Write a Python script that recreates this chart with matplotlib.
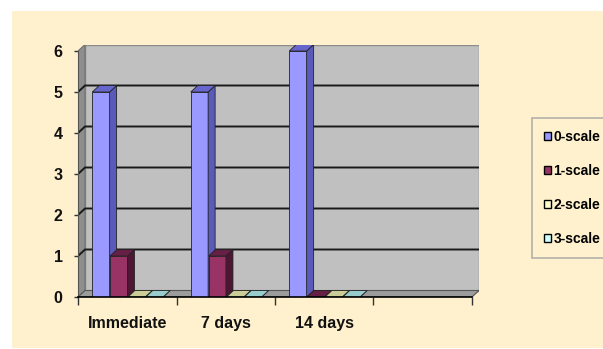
import matplotlib
matplotlib.use("Agg")
from matplotlib import pyplot as plt
from matplotlib.patches import Polygon, Rectangle, Patch

# data (last category has no values)
categories = ["Immediate", "7 days", "14 days", ""]
series_names = ["0-scale", "1-scale", "2-scale", "3-scale"]
scale0 = [5, 5, 6, None]
scale1 = [1, 1, 0, None]
scale2 = [0, 0, 0, None]
scale3 = [0, 0, 0, None]

face_colors = ["#9999FF", "#993366", "#FFFFCC", "#CCFFFF"]
top_colors = ["#6666CC", "#661F45", "#CCCC99", "#99CCCC"]
side_colors = ["#5A5AB8", "#4D1633", "#B3B380", "#80B3B3"]

BG = "#FFF1CE"
FONT = ["Liberation Sans Narrow", "Liberation Sans", "DejaVu Sans"]


def draw_bar3d(ax, x, w, h, dx, dy, k, z):
    ax.bar(x, h, width=w, align="edge", color=face_colors[k],
           edgecolor="#222222", linewidth=0.6, zorder=z)
    top = Polygon([(x, h), (x + w, h), (x + w + dx, h + dy), (x + dx, h + dy)],
                  closed=True, facecolor=top_colors[k], edgecolor="#222222",
                  linewidth=0.6, zorder=z)
    side = Polygon([(x + w, 0), (x + w + dx, dy), (x + w + dx, h + dy), (x + w, h)],
                   closed=True, facecolor=side_colors[k], edgecolor="#222222",
                   linewidth=0.6, zorder=z)
    ax.add_patch(side)
    ax.add_patch(top)


def main():
    plt.rcParams["font.family"] = FONT
    plt.rcParams["font.weight"] = "bold"

    W, H = 603, 349
    fig = plt.figure(figsize=(W / 100, H / 100), dpi=100)
    fig.patch.set_facecolor("white")
    fig.patches.append(Rectangle((12 / W, 1 / H), 591 / W, 337 / H,
                                 transform=fig.transFigure, facecolor=BG,
                                 edgecolor="none", zorder=-10))

    # pixel scale of the front plane
    px_cat = 98.5
    px_val = 41.0
    dx = 7 / px_cat
    dy = 6.5 / px_val
    ymax = 6
    ncat = len(categories)

    x0, y0 = 78, 297
    aw = ncat * px_cat + 7
    ah = (ymax + dy) * px_val
    ax = fig.add_axes([x0 / W, (H - y0) / H, aw / W, ah / H])
    ax.set_xlim(0, ncat + dx)
    ax.set_ylim(0, ymax + dy)
    ax.patch.set_visible(False)

    # walls and floor
    ax.add_patch(Rectangle((dx, dy), ncat, ymax, facecolor="#C0C0C0",
                           edgecolor="#8C8C8C", linewidth=1.0, zorder=0))
    ax.add_patch(Polygon([(0, 0), (dx, dy), (dx, ymax + dy), (0, ymax)],
                         closed=True, facecolor="#8E8E8E", edgecolor="#707070",
                         linewidth=0.8, zorder=0))
    ax.add_patch(Polygon([(0, 0), (ncat, 0), (ncat + dx, dy), (dx, dy)],
                         closed=True, facecolor="#9C9C9C", edgecolor="#555555",
                         linewidth=0.8, zorder=0.5))

    for v in range(1, ymax):
        ax.plot([0, dx, ncat + dx], [v, v + dy, v + dy], color="#1A1A1A",
                linewidth=1.4, zorder=0.6, solid_capstyle="butt")

    # bars
    series = [scale0, scale1, scale2, scale3]
    start, pitch, width = 0.145, 0.181, 0.176
    z = 2
    for i in range(ncat):
        for k, vals in enumerate(series):
            if vals[i] is None:
                continue
            x = i + start + k * pitch
            draw_bar3d(ax, x, width, vals[i], dx, dy, k, z)
            z += 1

    # axes
    for s in ["top", "right"]:
        ax.spines[s].set_visible(False)
    ax.spines["left"].set_bounds(0, ymax)
    ax.spines["left"].set_color("#555555")
    ax.spines["bottom"].set_bounds(0, ncat)
    ax.spines["bottom"].set_linewidth(1.2)
    ax.spines["left"].set_zorder(50)
    ax.spines["bottom"].set_zorder(50)

    ax.set_yticks(range(ymax + 1))
    ax.tick_params(axis="y", length=3, width=1, pad=8, labelsize=11.5,
                   color="#333333")
    ax.set_xticks(range(ncat + 1))
    ax.set_xticklabels([])
    ax.set_xticks([i + 0.5 for i in range(ncat)], minor=True)
    ax.set_xticklabels(categories, minor=True)
    ax.tick_params(axis="x", which="major", length=6, width=1, color="#333333")
    ax.tick_params(axis="x", which="minor", length=0, pad=14, labelsize=11.5)
    for lab in ax.get_yticklabels() + ax.get_xticklabels(minor=True):
        lab.set_fontweight("bold")
        lab.set_color("#111111")

    handles = [Patch(facecolor=c, edgecolor="black", linewidth=1.0)
               for c in face_colors]
    leg = fig.legend(handles, series_names, loc="upper left",
                     bbox_to_anchor=(532 / W, (H - 118) / H),
                     borderaxespad=0, frameon=True, fancybox=False,
                     handlelength=0.5, handleheight=0.5, handletextpad=0.2,
                     labelspacing=1.45, borderpad=0.85,
                     prop={"family": FONT, "weight": "bold", "size": 10})
    leg.get_frame().set_facecolor(BG)
    leg.get_frame().set_edgecolor("#A0A0A0")
    leg.get_frame().set_linewidth(1.2)

    fig.savefig("out.png", dpi=100)


if __name__ == "__main__":
    main()
